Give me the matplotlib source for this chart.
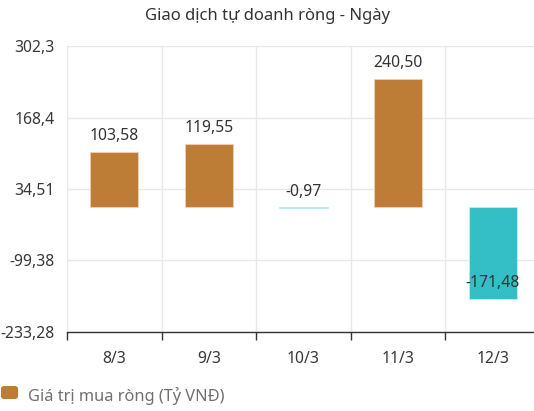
import matplotlib.pyplot as plt
from matplotlib.patches import FancyBboxPatch

plt.rcParams['font.family'] = ['Noto Sans', 'DejaVu Sans']

# du lieu
days = ['8/3', '9/3', '10/3', '11/3', '12/3']
values = [103.58, 119.55, -0.97, 240.50, -171.48]
yticks = [302.3, 168.4, 34.51, -99.38, -233.28]
ytick_labels = ['302,3', '168,4', '34,51', '-99,38', '-233,28']
title = 'Giao dịch tự doanh ròng - Ngày'
legend_label = 'Giá trị mua ròng (Tỷ VNĐ)'

pos_color = '#bd7d37'
neg_color = '#34bec6'

fig = plt.figure(figsize=(5.34, 4.11), dpi=100)
ax = fig.add_axes([67/534, 1-332/411, 473/534, 286/411])

x = list(range(len(days)))
colors = [pos_color if v >= 0 else neg_color for v in values]
edges = ['#f0d2b0' if v >= 0 else '#bfeef0' for v in values]
ax.bar(x, values, width=0.51, color=colors, edgecolor=edges, linewidth=0.6, zorder=3)

for xi, v in zip(x, values):
    ax.annotate(('%.2f' % v).replace('.', ','), (xi, v), xytext=(0, 16),
                textcoords='offset pixels', ha='center', va='center',
                fontsize=11.3, color='#333333', zorder=4)

ax.set_xlim(-0.5, len(days) - 0.5)
ax.set_ylim(yticks[-1], yticks[0])
ax.set_yticks(yticks)
ax.set_yticklabels(ytick_labels)
ax.set_xticks(x)
ax.set_xticklabels(days)
ax.set_xticks([i - 0.5 for i in range(len(days) + 1)], minor=True)

ax.tick_params(axis='y', length=0, pad=9, labelsize=11.3, labelcolor='#383838')
ax.tick_params(axis='x', which='major', length=0, pad=14, labelsize=11.3, labelcolor='#383838')
ax.tick_params(axis='x', which='minor', length=6, width=1, color='#333333')

ax.grid(axis='y', color='#e8e8e8', linewidth=1, zorder=0)
ax.grid(axis='x', which='minor', color='#e8e8e8', linewidth=1, zorder=0)

for s in ['top', 'right', 'left']:
    ax.spines[s].set_visible(False)
ax.spines['bottom'].set_color('#333333')
ax.spines['bottom'].set_linewidth(1)

fig.text(268/534, 1-16/411, title, ha='center', va='center', fontsize=12, color='#333333')

# chu thich
box = FancyBboxPatch((1/534, 1-399/411), 17/534, 13/411,
                     boxstyle='round,pad=0,rounding_size=0.006',
                     transform=fig.transFigure, facecolor=pos_color, edgecolor='none')
fig.patches.append(box)
fig.text(28/534, 1-396/411, legend_label, ha='left', va='center', fontsize=11.8, color='#707070')

fig.savefig('out.png', dpi=100)
